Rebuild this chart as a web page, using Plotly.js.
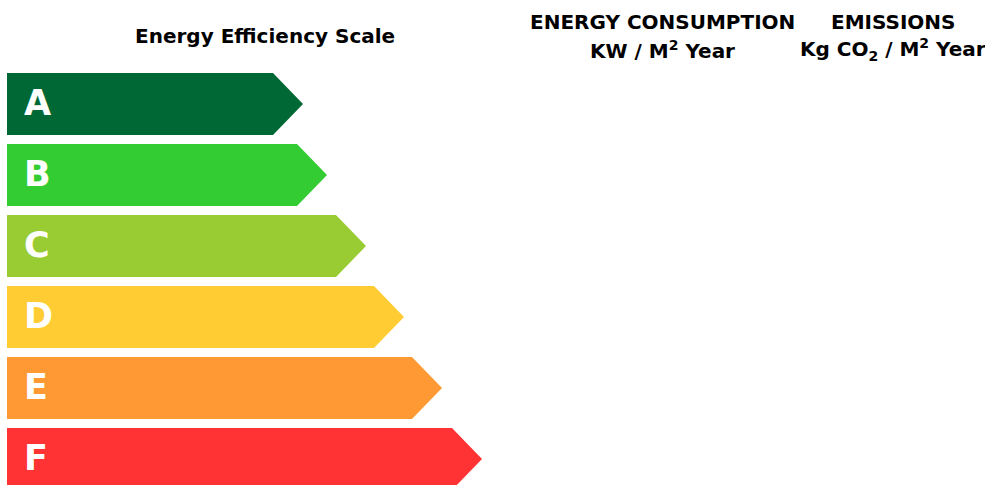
<!DOCTYPE html>
<html>
<head>
<meta charset="utf-8">
<script src="https://cdn.plot.ly/plotly-3.0.1.min.js"></script>
<style>html,body{margin:0;padding:0;background:#fff;}#chart{width:985px;height:485px;}</style>
</head>
<body>
<div id="chart"></div>
<script>
// Energy classes (categories)
const classes = ["A", "B", "C", "D", "E", "F"];
// Arrow length (tip position) for each class, in scale units
const arrowLength = [303, 327, 366, 404, 442, 482];
// Class colours
const classColors = ["#006834", "#33CC33", "#99CC33", "#FFCC33", "#FF9933", "#FF3333"];
// Header texts
const scaleTitle = "Energy Efficiency Scale";
const consumptionTitle = ["ENERGY CONSUMPTION", "KW / M<sup>2</sup> Year"];
const emissionsTitle = ["EMISSIONS", "Kg CO<sub>2</sub> / M<sup>2</sup> Year"];

const x0 = 7, tipW = 30, halfH = 0.437;
const traces = [];
classes.forEach((c, i) => {
  const tip = arrowLength[i];
  traces.push({
    type: "scatter", mode: "lines", fill: "toself",
    x: [x0, tip - tipW, tip, tip - tipW, x0, x0],
    y: [i - halfH, i - halfH, i, i + halfH, i + halfH, i - halfH],
    line: {width: 0, color: classColors[i]},
    fillcolor: classColors[i],
    hoverinfo: "skip", showlegend: false
  });
});
traces.push({
  type: "scatter", mode: "text",
  x: classes.map(() => 24), y: classes.map((c, i) => i + 0.03),
  text: classes, textposition: "middle right",
  textfont: {family: "DejaVu Sans", size: 35, color: "#ffffff", weight: "bold"},
  hoverinfo: "skip", showlegend: false
});

const hfont = {family: "DejaVu Sans", size: 20, color: "#000000", weight: "bold"};
function ann(text, x, ypx) {
  return {text: "<b>" + text + "</b>", x: x, xref: "x", y: 1 - ypx / 485, yref: "paper",
          yanchor: "middle", xanchor: "center", showarrow: false, font: hfont};
}
const layout = {
  width: 985, height: 485,
  margin: {l: 0, r: 0, t: 0, b: 0},
  paper_bgcolor: "#ffffff", plot_bgcolor: "#ffffff",
  xaxis: {range: [0, 985], visible: false, fixedrange: true},
  yaxis: {range: [(485 - 104) / 71, -104 / 71], visible: false, fixedrange: true},
  showlegend: false,
  annotations: [
    ann(scaleTitle, 265, 36),
    ann(consumptionTitle[0], 662, 22),
    ann(consumptionTitle[1], 662, 50),
    ann(emissionsTitle[0], 893, 22),
    ann(emissionsTitle[1], 893, 50)
  ]
};
Plotly.newPlot("chart", traces, layout, {displayModeBar: false, staticPlot: true});
</script>
</body>
</html>
